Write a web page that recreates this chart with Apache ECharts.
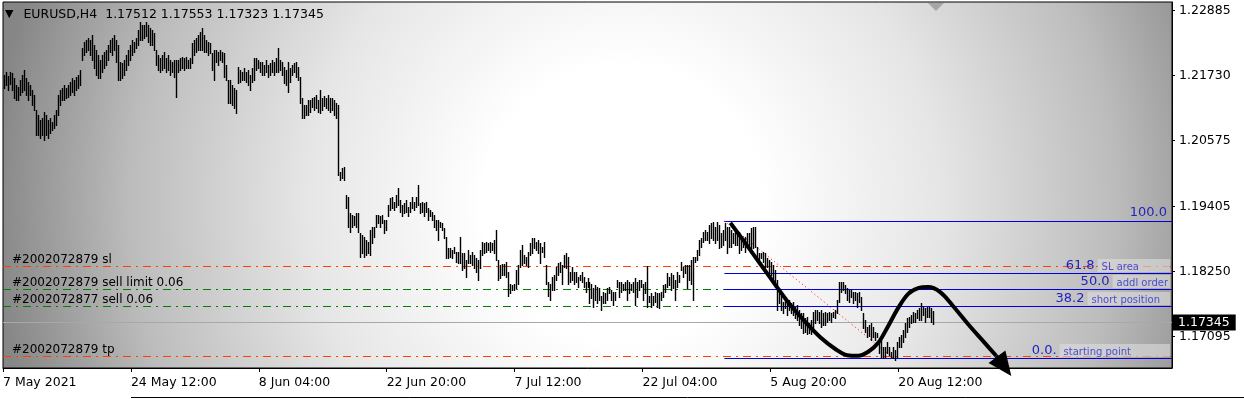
<!DOCTYPE html>
<html>
<head>
<meta charset="utf-8">
<title>EURUSD,H4</title>
<script src="https://cdn.jsdelivr.net/npm/echarts@6/dist/echarts.min.js"></script>
<style>
  html, body { margin: 0; padding: 0; background: #fff; }
  #main { width: 1244px; height: 399px; }
</style>
</head>
<body>
<div id="main"></div>
<script>
// EURUSD H4 bars, oldest first: high and low of every bar
var barHigh = [
  1.2174, 1.2179, 1.2172, 1.2179, 1.2178, 1.2169, 1.2156, 1.2153, 1.2165, 1.2174,
  1.2183, 1.2169, 1.2161, 1.2156, 1.2147, 1.2138, 1.2112, 1.2103, 1.2094, 1.2098,
  1.2108, 1.2103, 1.2094, 1.2098, 1.2090, 1.2103, 1.2112, 1.2138, 1.2147, 1.2151,
  1.2156, 1.2151, 1.2156, 1.2161, 1.2169, 1.2165, 1.2171, 1.2174, 1.2183, 1.2222,
  1.2233, 1.2236, 1.2240, 1.2236, 1.2245, 1.2227, 1.2218, 1.2210, 1.2201, 1.2210,
  1.2215, 1.2218, 1.2227, 1.2236, 1.2240, 1.2245, 1.2236, 1.2227, 1.2197, 1.2195,
  1.2201, 1.2210, 1.2218, 1.2227, 1.2236, 1.2233, 1.2240, 1.2254, 1.2268, 1.2263,
  1.2263, 1.2268, 1.2263, 1.2257, 1.2254, 1.2249, 1.2218, 1.2210, 1.2204, 1.2210,
  1.2215, 1.2204, 1.2210, 1.2201, 1.2197, 1.2201, 1.2201, 1.2201, 1.2204, 1.2206,
  1.2204, 1.2206, 1.2201, 1.2204, 1.2231, 1.2236, 1.2240, 1.2245, 1.2250, 1.2257,
  1.2245, 1.2236, 1.2233, 1.2231, 1.2213, 1.2218, 1.2218, 1.2215, 1.2218, 1.2215,
  1.2213, 1.2192, 1.2165, 1.2165, 1.2156, 1.2151, 1.2147, 1.2188, 1.2183, 1.2179,
  1.2186, 1.2179, 1.2183, 1.2174, 1.2186, 1.2204, 1.2204, 1.2201, 1.2197, 1.2197,
  1.2192, 1.2201, 1.2192, 1.2195, 1.2201, 1.2197, 1.2204, 1.2222, 1.2201, 1.2197,
  1.2188, 1.2183, 1.2197, 1.2186, 1.2192, 1.2195, 1.2197, 1.2188, 1.2171, 1.2133,
  1.2121, 1.2121, 1.2130, 1.2130, 1.2133, 1.2135, 1.2138, 1.2130, 1.2147, 1.2133,
  1.2136, 1.2133, 1.2138, 1.2133, 1.2133, 1.2130, 1.2125,
  1.2121, 1.2002, 1.2009, 1.2011, 1.1961, 1.1957, 1.1929, 1.1925, 1.1923, 1.1929,
  1.1929, 1.1893, 1.1890, 1.1886, 1.1881, 1.1877, 1.1899, 1.1904, 1.1904, 1.1925,
  1.1925, 1.1923, 1.1925, 1.1916, 1.1916, 1.1943, 1.1955, 1.1957, 1.1948, 1.1961,
  1.1973, 1.1952, 1.1943, 1.1946, 1.1952, 1.1939, 1.1948, 1.1957, 1.1948, 1.1957,
  1.1978, 1.1946, 1.1948, 1.1946, 1.1948, 1.1938, 1.1934, 1.1930, 1.1925, 1.1916,
  1.1916, 1.1913, 1.1911, 1.1902, 1.1886, 1.1866, 1.1866, 1.1863, 1.1868, 1.1859,
  1.1859, 1.1886, 1.1857, 1.1857, 1.1845, 1.1863, 1.1854, 1.1859, 1.1854, 1.1848,
  1.1845, 1.1863, 1.1877, 1.1875, 1.1877, 1.1875, 1.1877, 1.1875, 1.1881, 1.1899,
  1.1845, 1.1836, 1.1838, 1.1838, 1.1841, 1.1823, 1.1803, 1.1800, 1.1803, 1.1827,
  1.1836, 1.1863, 1.1872, 1.1854, 1.1850, 1.1859, 1.1875, 1.1884, 1.1884, 1.1877,
  1.1881, 1.1875, 1.1868, 1.1877, 1.1836, 1.1806, 1.1803, 1.1815, 1.1818, 1.1833,
  1.1840, 1.1841, 1.1836, 1.1854, 1.1857, 1.1850, 1.1823, 1.1833, 1.1823, 1.1823,
  1.1815, 1.1818, 1.1823, 1.1815, 1.1806, 1.1813, 1.1806, 1.1803, 1.1795, 1.1800,
  1.1797, 1.1795, 1.1782, 1.1788, 1.1786, 1.1795, 1.1797, 1.1792, 1.1788, 1.1788,
  1.1810, 1.1806, 1.1806, 1.1803, 1.1806, 1.1810, 1.1806, 1.1803, 1.1806, 1.1813,
  1.1806, 1.1810, 1.1810, 1.1803, 1.1806, 1.1834, 1.1782, 1.1786, 1.1782, 1.1788,
  1.1786, 1.1786, 1.1788, 1.1800, 1.1803, 1.1822, 1.1815, 1.1822, 1.1818, 1.1810,
  1.1823, 1.1818, 1.1841, 1.1833, 1.1836, 1.1836, 1.1836, 1.1845, 1.1850, 1.1850,
  1.1863, 1.1881, 1.1884, 1.1895, 1.1899, 1.1895, 1.1907, 1.1911, 1.1913, 1.1904,
  1.1913, 1.1907, 1.1893, 1.1899, 1.1911, 1.1904, 1.1904, 1.1899, 1.1893, 1.1895,
  1.1893, 1.1895, 1.1884, 1.1884, 1.1886, 1.1893, 1.1893, 1.1902, 1.1904, 1.1904,
  1.1868, 1.1857, 1.1857, 1.1859, 1.1857, 1.1848, 1.1845, 1.1841, 1.1836, 1.1827,
  1.1810, 1.1795, 1.1782, 1.1770, 1.1774, 1.1770, 1.1774, 1.1768, 1.1770, 1.1761,
  1.1765, 1.1756, 1.1751, 1.1751, 1.1742, 1.1744, 1.1733, 1.1739, 1.1753, 1.1756,
  1.1756, 1.1753, 1.1756, 1.1751, 1.1753, 1.1751, 1.1753, 1.1751, 1.1753, 1.1756,
  1.1774, 1.1806, 1.1806, 1.1806, 1.1800, 1.1795, 1.1792, 1.1792, 1.1788, 1.1788,
  1.1786, 1.1788, 1.1779, 1.1751, 1.1739, 1.1726, 1.1730, 1.1733, 1.1726, 1.1717,
  1.1715, 1.1699, 1.1703, 1.1690, 1.1690, 1.1699, 1.1690, 1.1681, 1.1690, 1.1685,
  1.1699, 1.1708, 1.1712, 1.1721, 1.1733, 1.1742, 1.1744, 1.1747, 1.1753, 1.1751,
  1.1756, 1.1760, 1.1768, 1.1761, 1.1760, 1.1761, 1.1761, 1.1760, 1.1755
];
var barLow = [
  1.2151, 1.2156, 1.2147, 1.2158, 1.2147, 1.2133, 1.2130, 1.2130, 1.2138, 1.2144,
  1.2147, 1.2138, 1.2130, 1.2138, 1.2121, 1.2112, 1.2067, 1.2067, 1.2062, 1.2067,
  1.2058, 1.2067, 1.2062, 1.2071, 1.2076, 1.2080, 1.2085, 1.2103, 1.2121, 1.2130,
  1.2130, 1.2133, 1.2135, 1.2138, 1.2144, 1.2138, 1.2147, 1.2151, 1.2156, 1.2201,
  1.2210, 1.2215, 1.2218, 1.2210, 1.2201, 1.2186, 1.2174, 1.2169, 1.2169, 1.2179,
  1.2186, 1.2192, 1.2201, 1.2215, 1.2210, 1.2218, 1.2197, 1.2165, 1.2165, 1.2169,
  1.2174, 1.2183, 1.2192, 1.2201, 1.2210, 1.2215, 1.2222, 1.2227, 1.2236, 1.2236,
  1.2240, 1.2243, 1.2233, 1.2227, 1.2227, 1.2218, 1.2192, 1.2183, 1.2179, 1.2183,
  1.2186, 1.2179, 1.2183, 1.2174, 1.2179, 1.2171, 1.2135, 1.2179, 1.2183, 1.2186,
  1.2183, 1.2186, 1.2186, 1.2186, 1.2195, 1.2210, 1.2215, 1.2218, 1.2218, 1.2218,
  1.2215, 1.2215, 1.2210, 1.2213, 1.2183, 1.2165, 1.2197, 1.2192, 1.2201, 1.2197,
  1.2171, 1.2165, 1.2125, 1.2125, 1.2121, 1.2115, 1.2106, 1.2160, 1.2161, 1.2165,
  1.2165, 1.2161, 1.2156, 1.2147, 1.2161, 1.2165, 1.2183, 1.2186, 1.2179, 1.2174,
  1.2174, 1.2179, 1.2171, 1.2174, 1.2179, 1.2174, 1.2179, 1.2179, 1.2183, 1.2174,
  1.2160, 1.2156, 1.2144, 1.2161, 1.2174, 1.2179, 1.2171, 1.2165, 1.2125, 1.2098,
  1.2098, 1.2103, 1.2103, 1.2108, 1.2117, 1.2112, 1.2115, 1.2108, 1.2106, 1.2112,
  1.2119, 1.2115, 1.2112, 1.2108, 1.2112, 1.2103, 1.2098,
  1.1996, 1.1987, 1.1991, 1.1987, 1.1938, 1.1904, 1.1895, 1.1903, 1.1907, 1.1904,
  1.1895, 1.1850, 1.1857, 1.1850, 1.1854, 1.1857, 1.1854, 1.1875, 1.1886, 1.1903,
  1.1911, 1.1904, 1.1911, 1.1893, 1.1899, 1.1923, 1.1934, 1.1938, 1.1934, 1.1939,
  1.1943, 1.1930, 1.1923, 1.1929, 1.1930, 1.1923, 1.1930, 1.1938, 1.1934, 1.1939,
  1.1943, 1.1929, 1.1930, 1.1923, 1.1930, 1.1916, 1.1923, 1.1916, 1.1904, 1.1899,
  1.1881, 1.1903, 1.1899, 1.1884, 1.1848, 1.1848, 1.1850, 1.1848, 1.1857, 1.1841,
  1.1840, 1.1840, 1.1827, 1.1831, 1.1815, 1.1840, 1.1840, 1.1836, 1.1831, 1.1823,
  1.1810, 1.1831, 1.1854, 1.1857, 1.1859, 1.1863, 1.1859, 1.1863, 1.1857, 1.1845,
  1.1810, 1.1813, 1.1818, 1.1818, 1.1815, 1.1782, 1.1787, 1.1792, 1.1792, 1.1796,
  1.1803, 1.1833, 1.1836, 1.1840, 1.1836, 1.1833, 1.1854, 1.1857, 1.1866, 1.1863,
  1.1857, 1.1840, 1.1859, 1.1850, 1.1803, 1.1782, 1.1774, 1.1792, 1.1792, 1.1810,
  1.1818, 1.1823, 1.1803, 1.1833, 1.1831, 1.1803, 1.1806, 1.1810, 1.1803, 1.1806,
  1.1797, 1.1810, 1.1806, 1.1797, 1.1788, 1.1797, 1.1769, 1.1777, 1.1761, 1.1774,
  1.1769, 1.1774, 1.1756, 1.1769, 1.1769, 1.1774, 1.1786, 1.1774, 1.1765, 1.1774,
  1.1797, 1.1779, 1.1788, 1.1792, 1.1792, 1.1774, 1.1786, 1.1792, 1.1788, 1.1765,
  1.1779, 1.1792, 1.1797, 1.1774, 1.1786, 1.1761, 1.1770, 1.1761, 1.1765, 1.1770,
  1.1761, 1.1760, 1.1774, 1.1779, 1.1788, 1.1797, 1.1800, 1.1792, 1.1795, 1.1774,
  1.1797, 1.1806, 1.1827, 1.1815, 1.1822, 1.1795, 1.1810, 1.1803, 1.1774, 1.1841,
  1.1845, 1.1854, 1.1868, 1.1877, 1.1881, 1.1881, 1.1875, 1.1884, 1.1881, 1.1875,
  1.1881, 1.1866, 1.1868, 1.1872, 1.1881, 1.1857, 1.1868, 1.1868, 1.1875, 1.1872,
  1.1872, 1.1857, 1.1863, 1.1868, 1.1859, 1.1868, 1.1863, 1.1857, 1.1866, 1.1868,
  1.1850, 1.1845, 1.1848, 1.1841, 1.1833, 1.1833, 1.1823, 1.1818, 1.1810, 1.1797,
  1.1756, 1.1769, 1.1756, 1.1751, 1.1760, 1.1747, 1.1756, 1.1751, 1.1747, 1.1742,
  1.1739, 1.1730, 1.1724, 1.1715, 1.1717, 1.1713, 1.1715, 1.1713, 1.1724, 1.1733,
  1.1739, 1.1733, 1.1726, 1.1730, 1.1730, 1.1735, 1.1739, 1.1735, 1.1744, 1.1742,
  1.1751, 1.1770, 1.1788, 1.1792, 1.1786, 1.1774, 1.1770, 1.1779, 1.1769, 1.1774,
  1.1761, 1.1770, 1.1756, 1.1724, 1.1717, 1.1708, 1.1710, 1.1703, 1.1708, 1.1703,
  1.1708, 1.1680, 1.1673, 1.1671, 1.1673, 1.1680, 1.1676, 1.1673, 1.1671, 1.1668,
  1.1673, 1.1690, 1.1690, 1.1699, 1.1708, 1.1717, 1.1726, 1.1733, 1.1735, 1.1735,
  1.1742, 1.1739, 1.1739, 1.1747, 1.1735, 1.1744, 1.1744, 1.1735, 1.1732
];

var header = 'EURUSD,H4  1.17512 1.17553 1.17323 1.17345';
var lastPrice = 1.17345;

// axis labels
var priceTicks = [1.17095, 1.18250, 1.19405, 1.20575, 1.21730, 1.22885];
var timeTickBars = [0, 64, 128, 192, 256, 320, 384, 448];
var timeTickLabels = ['7 May 2021', '24 May 12:00', '8 Jun 04:00', '22 Jun 20:00',
  '7 Jul 12:00', '22 Jul 04:00', '5 Aug 20:00', '20 Aug 12:00'];

// open orders
var orderNames = ['#2002072879 sl', '#2002072879 sell limit 0.06', '#2002072877 sell 0.06', '#2002072879 tp'];
var orderPrices = [1.18345, 1.17936, 1.17634, 1.16746];
var orderKinds = ['stop', 'entry', 'entry', 'stop'];

// fibo retracement
var fibHigh = 1.19144;
var fibLow = 1.16710;
var fibFromBar = 360.5;
var fibToBar = 445;
var fibLevels = [100, 61.8, 50, 38.2, 0];
var fibTexts = ['100.0', '61.8', '50.0', '38.2', '0.0.'];
var fibNotes = ['', 'SL area', 'addl order', 'short position', 'starting point'];

// hand drawn arrow
var arrowBar = [363.5, 371, 378.5, 386, 393.5, 401, 408.5, 416, 422, 427.5, 432.5, 437.5,
  442.5, 447.5, 452.5, 457.5, 462.5, 468.5, 475, 482.5, 490, 496.5];
var arrowPrice = [1.1911, 1.1875, 1.1838, 1.1801, 1.1765, 1.1735, 1.1708, 1.1687, 1.1676, 1.1675,
  1.1682, 1.1698, 1.1728, 1.1760, 1.1785, 1.1795, 1.1797, 1.1788, 1.1763, 1.1731, 1.1701, 1.1675];
var arrowTipBar = 500.5;
var arrowTipPrice = 1.1656;

var FONT = 'DejaVu Sans';
var xMin = -0.5, xMax = 584.5;
var kindColor = { stop: '#ff4000', entry: '#008000' };
var notePadRight = { 'SL area': 31, 'addl order': 2, 'short position': 10, 'starting point': 39 };

var myChart = echarts.init(document.getElementById('main'));

var bars = barHigh.map(function (h, i) { return [i, h, barLow[i]]; });

function renderBar(params, api) {
  var hi = api.coord([api.value(0), api.value(1)]);
  var lo = api.coord([api.value(0), api.value(2)]);
  var x = Math.round(hi[0]) + 0.5;
  return {
    type: 'line',
    shape: { x1: x, y1: Math.round(hi[1]), x2: x, y2: Math.round(lo[1]) + 1 },
    style: { stroke: '#000', lineWidth: 1.4 }
  };
}

// every horizontal level: orders, last price, fibo levels
var levels = [];
orderPrices.forEach(function (p, k) {
  levels.push({ x0: xMin, x1: xMax, p: p, color: kindColor[orderKinds[k]], dash: [8, 5, 2, 5], name: orderNames[k] });
});
levels.push({ x0: xMin, x1: xMax, p: lastPrice, color: '#a8a8a8', dash: null, tag: lastPrice.toFixed(5) });
fibLevels.forEach(function (lv, k) {
  levels.push({
    x0: fibFromBar, x1: xMax, p: fibLow + (fibHigh - fibLow) * lv / 100,
    color: '#0000dd', dash: null, fib: fibTexts[k], note: fibNotes[k]
  });
});

function renderLevel(params, api) {
  var lv = levels[api.value(3)];
  var a = api.coord([api.value(0), api.value(2)]);
  var b = api.coord([api.value(1), api.value(2)]);
  var y = Math.round(a[1]) + 0.5;
  var kids = [{
    type: 'line',
    shape: { x1: a[0], y1: y, x2: b[0], y2: y },
    style: { stroke: lv.color, lineWidth: 1, lineDash: lv.dash }
  }];
  if (lv.name) {
    kids.push({
      type: 'text', x: a[0] + 9, y: y - 1,
      style: { text: lv.name, fill: '#000', font: '12px "DejaVu Sans"', align: 'left', verticalAlign: 'bottom' }
    });
  }
  if (lv.tag) {
    kids.push({
      type: 'text', x: b[0] + 1, y: y,
      style: {
        text: lv.tag, fill: '#fff', font: '12.5px "DejaVu Sans"', align: 'left', verticalAlign: 'middle',
        backgroundColor: '#000', padding: [2, 6, 1, 5]
      }
    });
  }
  if (lv.fib) {
    var txt = '{n|' + lv.fib + '}' + (lv.note ? '{s|' + lv.note + '}' : '');
    kids.push({
      type: 'text', x: b[0] - 2, y: y - (lv.note ? 0.5 : 1),
      style: {
        text: txt, align: 'right', verticalAlign: 'bottom',
        rich: {
          n: { fontFamily: FONT, fontSize: 13, fill: '#2222c0', lineHeight: 15, padding: [0, 3, 0, 0] },
          s: {
            fontFamily: FONT, fontSize: 10, fill: '#4c4cd0', lineHeight: 12,
            backgroundColor: 'rgba(222,222,222,0.6)', padding: [3, notePadRight[lv.note] || 0, 0, 4]
          }
        }
      }
    });
  }
  return { type: 'group', children: kids };
}

var option = {
  animation: false,
  backgroundColor: '#fff',
  title: {
    left: 5, top: 8, padding: 0,
    text: '{t|▼}' + header,
    textStyle: {
      fontFamily: FONT, fontSize: 12.5, fontWeight: 'normal', color: '#000',
      rich: { t: { fontFamily: FONT, fontSize: 11, color: '#000', padding: [0, 10, 0, 0] } }
    }
  },
  graphic: [
    {
      type: 'polygon', shape: { points: [[928, 3], [944, 3], [936, 11]] },
      style: { fill: '#a6a6a6' }, z: 10
    },
    {
      type: 'line', shape: { x1: 131, y1: 397.5, x2: 1244, y2: 397.5 },
      style: { stroke: '#000', lineWidth: 1 }, z: 10
    }
  ],
  grid: {
    left: 2, top: 2, width: 1170, height: 366, show: true,
    borderColor: '#000', borderWidth: 1,
    backgroundColor: {
      type: 'radial', x: 0.53, y: 0.55, r: 1.72,
      colorStops: [
        { offset: 0, color: '#ffffff' },
        { offset: 0.22, color: '#ffffff' },
        { offset: 0.5, color: '#e6e6e6' },
        { offset: 0.78, color: '#bcbcbc' },
        { offset: 1, color: '#868686' }
      ]
    }
  },
  xAxis: {
    type: 'value', min: xMin, max: xMax,
    axisLine: { show: true, onZero: false, lineStyle: { color: '#000' } },
    splitLine: { show: false },
    axisTick: {
      show: true, length: 4, lineStyle: { color: '#000' },
      customValues: timeTickBars.map(function (b) { return b - 0.5; })
    },
    axisLabel: {
      customValues: timeTickBars.map(function (b) { return b - 0.5; }),
      formatter: function (v) { return timeTickLabels[timeTickBars.indexOf(Math.round(v + 0.5))] || ''; },
      align: 'left', margin: 8, color: '#000', fontFamily: FONT, fontSize: 12.5
    }
  },
  yAxis: {
    type: 'value', position: 'right', min: 1.16532, max: 1.23036,
    axisLine: { show: true, onZero: false, lineStyle: { color: '#000' } },
    splitLine: { show: false },
    axisTick: { show: true, length: 3, lineStyle: { color: '#000' }, customValues: priceTicks },
    axisLabel: {
      customValues: priceTicks,
      formatter: function (v) { return v.toFixed(5); },
      margin: 7, color: '#000', fontFamily: FONT, fontSize: 12.5
    }
  },
  series: [
    {
      name: 'levels', type: 'custom', renderItem: renderLevel, z: 2, silent: true, clip: false,
      data: levels.map(function (lv, i) { return [lv.x0, lv.x1, lv.p, i]; }),
      encode: { x: [0, 1], y: 2 },
      markLine: {
        symbol: ['none', 'none'], silent: true, z: 2, label: { show: false },
        data: [[
          { coord: [fibFromBar, fibHigh], lineStyle: { color: '#ff0000', width: 1, type: [1, 3] } },
          { coord: [fibToBar, fibLow], lineStyle: { color: '#ff0000', width: 1, type: [1, 3] } }
        ]]
      }
    },
    {
      name: 'EURUSD,H4', type: 'custom', renderItem: renderBar, data: bars,
      encode: { x: 0, y: [1, 2] }, z: 3, silent: true
    },
    {
      name: 'arrow', type: 'line', smooth: 0.35, showSymbol: false, clip: false, z: 6, silent: true,
      data: arrowBar.map(function (b, k) { return [b, arrowPrice[k]]; }),
      lineStyle: { color: '#000', width: 4 },
      markLine: {
        silent: true, z: 6, symbol: ['none', 'triangle'], symbolSize: [21, 24],
        lineStyle: { color: '#000', width: 4, type: 'solid' }, label: { show: false },
        itemStyle: { color: '#000' },
        data: [[
          { coord: [arrowBar[arrowBar.length - 1], arrowPrice[arrowPrice.length - 1]] },
          { coord: [arrowTipBar, arrowTipPrice] }
        ]]
      }
    }
  ]
};

myChart.setOption(option);
</script>
</body>
</html>
